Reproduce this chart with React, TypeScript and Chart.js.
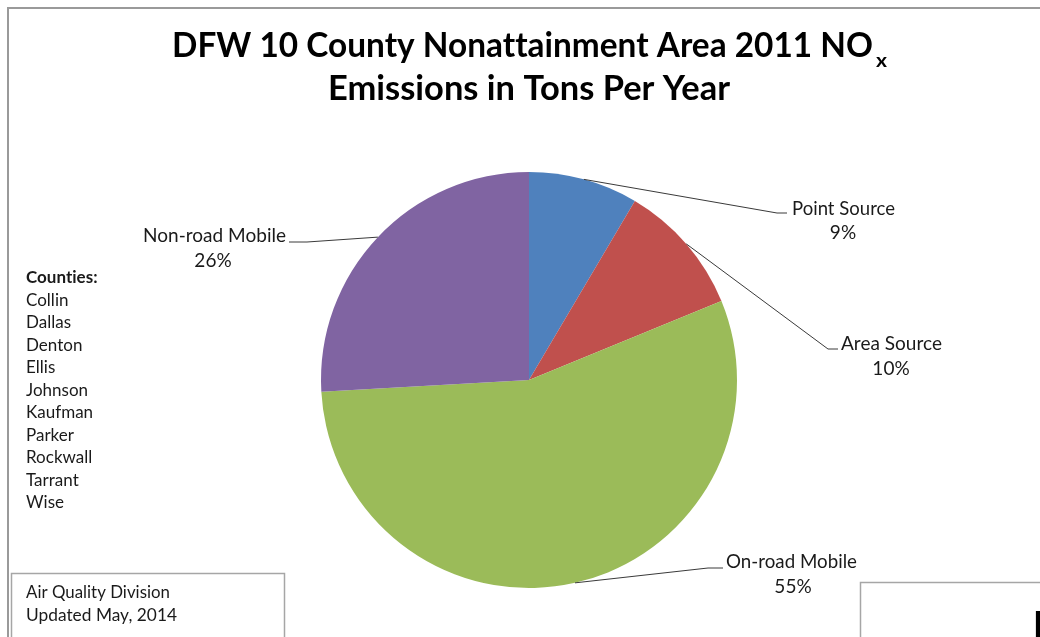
import React, { useEffect, useRef } from "react";
import { Chart, registerables } from "chart.js";

Chart.register(...registerables);

// ---- data ----
const categories = ["Point Source", "Area Source", "On-road Mobile", "Non-road Mobile"];
const shares = [8.5, 10.3, 55.3, 25.9];
const colors = ["#4F81BD", "#C0504D", "#9BBB59", "#8064A2"];
const counties = ["Collin", "Dallas", "Denton", "Ellis", "Johnson", "Kaufman", "Parker", "Rockwall", "Tarrant", "Wise"];
const titleLine1 = "DFW 10 County Nonattainment Area 2011 NO";
const titleSub = "x";
const titleLine2 = "Emissions in Tons Per Year";
const footerLines = ["Air Quality Division", "Updated May, 2014"];

// ---- layout (label placement, not data) ----
const labelLayout = [
  { elbow: [777, 213], end: [787, 213], nameX: 792, nameW: 103, nameY: 215, pctX: 843, pctY: 239, align: "left" },
  { elbow: [828, 349], end: [838, 349], nameX: 841, nameW: 101, nameY: 350, pctX: 891, pctY: 375, align: "left" },
  { elbow: [708, 568], end: [723, 568], nameX: 726, nameW: 131, nameY: 568, pctX: 793, pctY: 593, align: "left" },
  { elbow: [307, 242], end: [289, 242], nameX: 286, nameW: 143, nameY: 242, pctX: 213, pctY: 267, align: "right" },
];

const FONT = "Lato, 'Open Sans', sans-serif";

function fitText(ctx: CanvasRenderingContext2D, text: string, x: number, y: number, w: number, align: "left" | "right" | "center") {
  const m = ctx.measureText(text).width;
  const sx = m > 0 ? w / m : 1;
  ctx.save();
  ctx.translate(x, y);
  ctx.scale(sx, 1);
  ctx.textAlign = align;
  ctx.textBaseline = "alphabetic";
  ctx.fillText(text, 0, 0);
  ctx.restore();
}

const decorPlugin = {
  id: "decor",
  beforeDraw(chart: any) {
    const ctx: CanvasRenderingContext2D = chart.ctx;
    ctx.save();
    ctx.fillStyle = "#ffffff";
    ctx.fillRect(0, 0, chart.width, chart.height);
    ctx.strokeStyle = "#9a9a9a";
    ctx.lineWidth = 2;
    ctx.beginPath();
    ctx.moveTo(8, chart.height + 2);
    ctx.lineTo(8, 8);
    ctx.lineTo(chart.width + 2, 8);
    ctx.stroke();
    ctx.restore();
  },
  afterDraw(chart: any) {
    const ctx: CanvasRenderingContext2D = chart.ctx;
    ctx.save();
    try { (ctx as any).letterSpacing = "0.01px"; } catch (e) {}
    // title
    ctx.fillStyle = "#000";
    ctx.font = `bold 35px ${FONT}`;
    fitText(ctx, titleLine1, 172, 57, 701, "left");
    ctx.font = `bold 19px ${FONT}`;
    fitText(ctx, titleSub, 876, 67, 11, "left");
    ctx.font = `bold 35px ${FONT}`;
    fitText(ctx, titleLine2, 529, 100, 402, "center");

    // leader lines + labels
    const meta = chart.getDatasetMeta(0);
    const total = shares.reduce((a, b) => a + b, 0);
    meta.data.forEach((arc: any, i: number) => {
      const p = arc.getProps(["x", "y", "startAngle", "endAngle", "outerRadius"], true);
      const mid = (p.startAngle + p.endAngle) / 2;
      const sx = p.x + Math.cos(mid) * p.outerRadius;
      const sy = p.y + Math.sin(mid) * p.outerRadius;
      const L = labelLayout[i];
      ctx.strokeStyle = "#3a3a3a";
      ctx.lineWidth = 1;
      ctx.beginPath();
      ctx.moveTo(sx, sy);
      ctx.lineTo(L.elbow[0], L.elbow[1]);
      ctx.lineTo(L.end[0], L.end[1]);
      ctx.stroke();
      ctx.fillStyle = "#1a1a1a";
      ctx.font = `19px ${FONT}`;
      fitText(ctx, categories[i], L.nameX, L.nameY, L.nameW, L.align as any);
      const pct = Math.round((shares[i] / total) * 100) + "%";
      ctx.textAlign = "center";
      ctx.fillText(pct, L.pctX, L.pctY);
    });

    // counties
    ctx.fillStyle = "#1a1a1a";
    ctx.textAlign = "left";
    ctx.font = `bold 17px ${FONT}`;
    ctx.fillText("Counties:", 26, 283);
    ctx.font = `17px ${FONT}`;
    counties.forEach((c, i) => {
      ctx.fillText(c, 26, 305.5 + i * 22.5);
    });

    // footer box
    ctx.strokeStyle = "#a6a6a6";
    ctx.lineWidth = 1.5;
    ctx.beginPath();
    ctx.moveTo(11.5, chart.height + 2);
    ctx.lineTo(11.5, 573.5);
    ctx.lineTo(284.5, 573.5);
    ctx.lineTo(284.5, chart.height + 2);
    ctx.stroke();
    ctx.fillStyle = "#1a1a1a";
    ctx.font = `17px ${FONT}`;
    fitText(ctx, footerLines[0], 26, 598, 144, "left");
    fitText(ctx, footerLines[1], 26, 621, 151, "left");

    // partial box at bottom right
    ctx.beginPath();
    ctx.moveTo(860.5, chart.height + 2);
    ctx.lineTo(860.5, 582.5);
    ctx.lineTo(chart.width + 2, 582.5);
    ctx.stroke();
    ctx.fillStyle = "#000";
    ctx.font = `bold 36px ${FONT}`;
    ctx.fillText("H", 1033, 637);
    ctx.restore();
  },
};

export default function App() {
  const ref = useRef<HTMLCanvasElement | null>(null);
  useEffect(() => {
    if (!ref.current) return;
    const chart = new Chart(ref.current, {
      type: "pie",
      data: {
        labels: categories,
        datasets: [
          {
            data: shares,
            backgroundColor: colors,
            borderWidth: 0,
          },
        ],
      },
      options: {
        animation: false,
        responsive: false,
        layout: { padding: { left: 321, right: 303, top: 172, bottom: 49 } },
        plugins: {
          legend: { display: false },
          tooltip: { enabled: false },
          title: { display: false },
        },
      },
      plugins: [decorPlugin],
    });
    return () => chart.destroy();
  }, []);
  return (
    <div style={{ position: "absolute", left: 0, top: 0, width: 1040, height: 637 }}>
      <canvas ref={ref} width={1040} height={637} style={{ display: "block" }} />
    </div>
  );
}
